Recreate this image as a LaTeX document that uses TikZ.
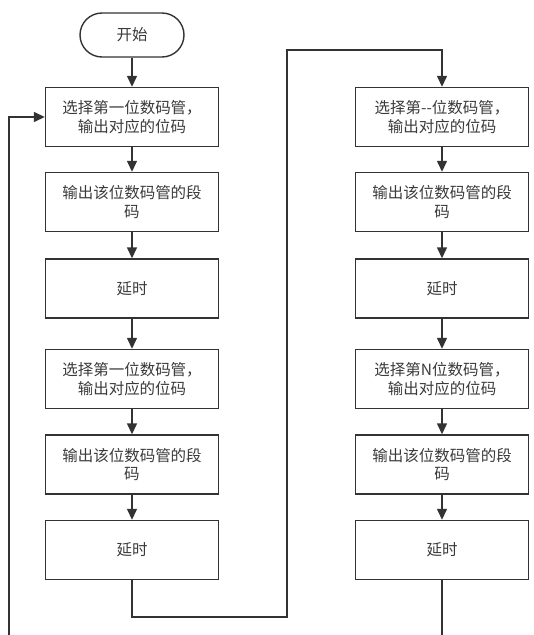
\documentclass[tikz,border=0pt]{standalone}
\usepackage{fontspec}
\usepackage{tikz}
\usetikzlibrary{arrows.meta}
\newfontfamily\cjk{Noto Sans CJK SC}
\definecolor{linegray}{HTML}{333333}
\definecolor{textgray}{HTML}{3A3A3A}
\tikzset{
    box/.style={draw=linegray, line width=1.4pt, minimum width=173pt, minimum height=59pt,
        inner sep=0pt, align=center, text=textgray, font=\cjk\fontsize{15.5}{18.5}\selectfont},
    startbox/.style={box, rounded corners=22pt, minimum width=104pt, minimum height=44pt},
}

\begin{document}
\begin{tikzpicture}[x=1pt, y=-1pt, line width=1.4pt, draw=linegray,
        >={Triangle[width=10pt,length=11pt]}]
        \useasboundingbox (0,0) rectangle (534,635);
        % --- Left column ---
        \begin{scope}[xshift=132pt]
            \node[startbox] (start) at (0,35) {开始};
            \node[box] (lsel) at (0,117) {选择第一位数码管，\\输出对应的位码};
            \node[box] (lseg) at (0,202) {输出该位数码管的段\\码};
            \node[box] (ldel) at (0,288.5) {延时};
            \node[box] (lsel2) at (0,379) {选择第一位数码管，\\输出对应的位码};
            \node[box] (lseg2) at (0,464.5) {输出该位数码管的段\\码};
            \node[box] (ldel2) at (0,550) {延时};
            \draw[->, linegray] (start) -- (lsel);
            \draw[->, linegray] (lsel) -- (lseg);
            \draw[->, linegray] (lseg) -- (ldel);
            \draw[->, linegray] (ldel) -- (lsel2);
            \draw[->, linegray] (lsel2) -- (lseg2);
            \draw[->, linegray] (lseg2) -- (ldel2);
        \end{scope}
        % --- Right column ---
        \begin{scope}[xshift=442pt]
            \node[box] (rsel) at (0,117) {选择第-{}-位数码管，\\输出对应的位码};
            \node[box] (rseg) at (0,202) {输出该位数码管的段\\码};
            \node[box] (rdel) at (0,288.5) {延时};
            \node[box] (rseln) at (0,379) {选择第N位数码管，\\输出对应的位码};
            \node[box] (rsegn) at (0,464.5) {输出该位数码管的段\\码};
            \node[box] (rdeln) at (0,550) {延时};
            \draw[->, linegray] (rsel) -- (rseg);
            \draw[->, linegray] (rseg) -- (rdel);
            \draw[->, linegray] (rdel) -- (rseln);
            \draw[->, linegray] (rseln) -- (rsegn);
            \draw[->, linegray] (rsegn) -- (rdeln);
        \end{scope}
        % --- Links ---
        \coordinate (lbot) at (287,617);
        \coordinate (ltop) at (287,50);
        \coordinate (lfoot) at (9,635);
        \coordinate (rfoot) at (442,635);
        \draw[->, linegray] (ldel2.south) |- (lbot) -- (ltop) -| (rsel.north);
        \draw[->, linegray] (lfoot) |- (lsel.west);
        \draw[linegray] (rdeln.south) -- (rfoot);
    \end{tikzpicture}
\end{document}
